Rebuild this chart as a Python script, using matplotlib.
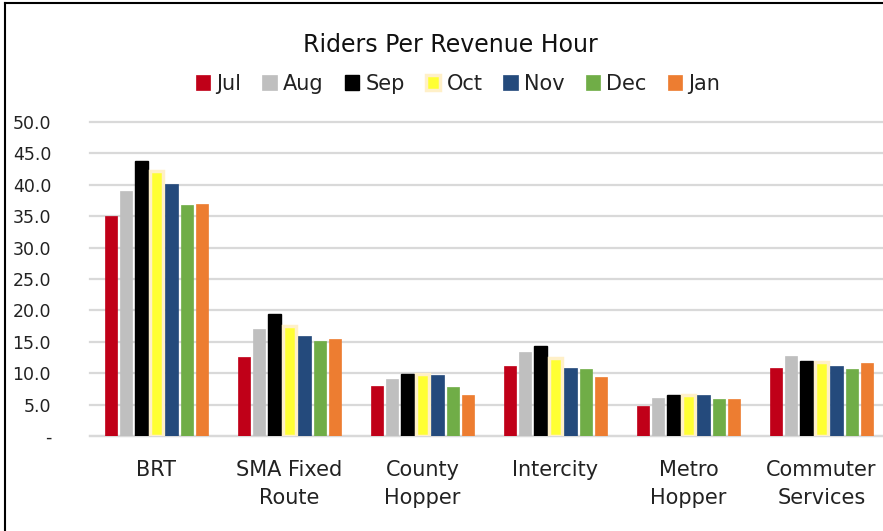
import matplotlib.pyplot as plt
from matplotlib.lines import Line2D
import numpy as np

categories = ["BRT", "SMA Fixed\nRoute", "County\nHopper", "Intercity", "Metro\nHopper", "Commuter\nServices"]
months = ["Jul", "Aug", "Sep", "Oct", "Nov", "Dec", "Jan"]
jul = [35.0, 12.6, 8.0, 11.1, 4.8, 10.9]
aug = [39.0, 17.0, 9.1, 13.4, 6.1, 12.8]
sep = [43.8, 19.5, 9.8, 14.3, 6.5, 11.9]
oct_ = [42.2, 17.5, 9.9, 12.4, 6.5, 11.8]
nov = [40.1, 16.0, 9.7, 10.9, 6.6, 11.1]
dec = [36.8, 15.1, 7.8, 10.6, 5.9, 10.6]
jan = [36.9, 15.4, 6.6, 9.4, 5.9, 11.6]
series = [jul, aug, sep, oct_, nov, dec, jan]
yticks = [0, 5, 10, 15, 20, 25, 30, 35, 40, 45, 50]
ytick_labels = ["-", "5.0", "10.0", "15.0", "20.0", "25.0", "30.0", "35.0", "40.0", "45.0", "50.0"]

colors = ["#C00018", "#BFBFBF", "#000000", "#FFFF33", "#244A7C", "#70AD47", "#ED7D31"]
edges = ["#C00018", "#BFBFBF", "#000000", "#FFF0C8", "#244A7C", "#70AD47", "#ED7D31"]
edge_w = [0.5, 0.5, 1.0, 2.5, 0.5, 0.5, 0.5]

fig = plt.figure(figsize=(8.83, 5.31), dpi=100)
ax = fig.add_axes([90 / 883, (531 - 436) / 531, 798 / 883, 314 / 531])

x = np.arange(len(categories))
slot = 0.8 / len(months)
for i, (vals, m) in enumerate(zip(series, months)):
    ax.bar(x - 0.4 + slot * (i + 0.5), vals, width=slot * 0.84,
           color=colors[i], edgecolor=edges[i], linewidth=edge_w[i],
           label=m, zorder=3)

ax.set_xlim(-0.5, len(categories) - 0.5)
ax.set_ylim(0, 50)
ax.set_yticks(yticks)
ax.set_yticklabels(ytick_labels, fontsize=12.5, color="#222222")
ax.set_xticks(x)
ax.set_xticklabels(categories, fontsize=15, color="#222222", linespacing=1.5)
ax.tick_params(axis="both", length=0)
ax.tick_params(axis="y", pad=28)
ax.tick_params(axis="x", pad=17)
ax.yaxis.grid(True, color="#D9D9D9", linewidth=1.6, zorder=0)
for gl in ax.get_ygridlines():
    gl.set_clip_on(False)
for s in ["top", "right", "left"]:
    ax.spines[s].set_visible(False)
ax.spines["bottom"].set_color("#D9D9D9")
ax.spines["bottom"].set_linewidth(1.6)

fig.text(450 / 883, 1 - 45 / 531, "Riders Per Revenue Hour", ha="center", va="center",
         fontsize=17, color="#111111")
leg = fig.legend(loc="center", bbox_to_anchor=(458 / 883, 1 - 84 / 531), ncol=7,
                 frameon=False, fontsize=15, handlelength=0.7, handleheight=0.7,
                 handletextpad=0.3, columnspacing=1.0, borderpad=0)
for t in leg.get_texts():
    t.set_color("#222222")

# outer frame (left and top edges)
fig.add_artist(Line2D([5 / 883, 5 / 883], [0, 1 - 3 / 531], color="black", linewidth=1.5))
fig.add_artist(Line2D([5 / 883, 1], [1 - 3 / 531, 1 - 3 / 531], color="black", linewidth=1.5))

fig.savefig("out.png", dpi=100)
